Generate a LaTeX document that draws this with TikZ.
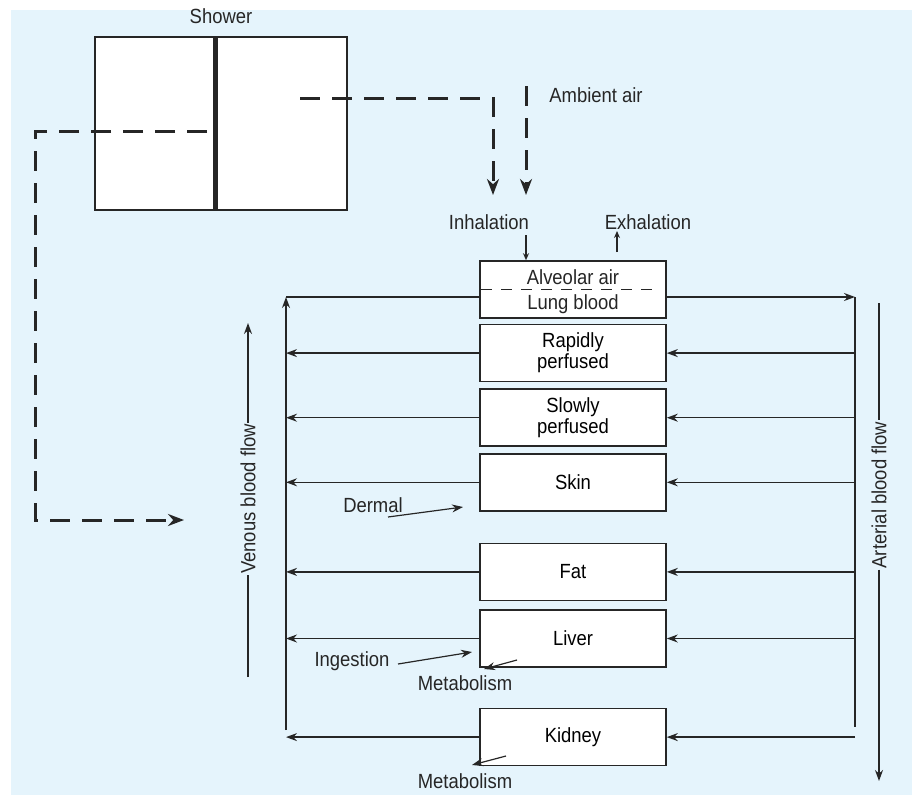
\documentclass[tikz,border=0pt]{standalone}
\usepackage{fontspec}
\setmainfont{Liberation Sans}[FakeStretch=0.9]
\usetikzlibrary{positioning,arrows.meta}
\definecolor{bgblue}{RGB}{229,244,252}
\definecolor{ink}{RGB}{38,38,38}
\tikzset{organ/.style={draw=ink,line width=1.6pt,fill=white,minimum width=186pt,minimum height=57pt,align=center,inner sep=0pt},
         line/.style={-{Stealth[length=11pt,width=8pt]},line width=1.4pt,draw=ink},
         tiny/.style={-{Stealth[length=7pt,width=6pt]},line width=1.2pt,draw=ink},
         route/.style={-{Stealth[length=16pt,width=12pt]},line width=3pt,draw=ink,dash pattern=on 20pt off 12pt},
         lbl/.style={inner sep=1pt,text=ink}
}

\begin{document}
\begin{tikzpicture}[x=1pt,y=-1pt,font=\fontsize{20.5}{21}\selectfont]
  \useasboundingbox (0,0) rectangle (912,795);
  \fill[bgblue] (11,10) rectangle (912,795);

  % shower stall
  \node[draw=ink,line width=1.6pt,fill=white,minimum width=252pt,minimum height=173pt,inner sep=0pt,
        label={[lbl,label distance=11pt]above:Shower}] (shower) at (221,123.5) {};
  \coordinate (wall) at (215,0);
  \draw[line width=5pt,draw=ink] (shower.north -| wall) -- (shower.south -| wall);

  % compartments
  \node[organ] (lung) at (573,289.5) {};
  \node[organ, below=5pt of lung] (rapid) {Rapidly\\perfused};
  \node[organ, below=6pt of rapid] (slow) {Slowly\\perfused};
  \node[organ, below=6pt of slow] (skin) {Skin};
  \node[organ, below=31pt of skin] (fat) {Fat};
  \node[organ, below=8pt of fat] (liver) {Liver};
  \node[organ, below=40pt of liver] (kidney) {Kidney};
  \draw[ink,line width=1.2pt,dash pattern=on 11pt off 9pt] ([xshift=2pt]lung.west) -- ([xshift=-6pt]lung.east);
  \node[lbl] (alv) at (573,277) {Alveolar air};
  \node[lbl] (blood) at (573,304) {Lung blood};

  % venous and arterial trunks
  \coordinate (vtop) at (286,297);
  \coordinate (vbot) at (286,730);
  \coordinate (atop) at (855,297);
  \coordinate (abot) at (855,727);
  \draw[line] (vbot) -- (vtop);
  \draw[ink,line width=1.4pt] (vtop) -- (lung.west |- vtop);
  \draw[line] (lung.east |- atop) -- (atop);
  \draw[ink,line width=1.4pt] (atop) -- (abot);
  \foreach \o in {rapid,slow,skin,fat,liver,kidney}{
    \draw[line] (\o.west) -- (\o.west -| vtop);
    \draw[line] (\o.east -| atop) -- (\o.east);
  }

  \node[lbl,rotate=90] (venous) at (248,499) {Venous blood flow};
  \coordinate (vhi) at (248,323);
  \coordinate (vlo) at (248,677);
  \draw[ink,line width=1.4pt] (vlo) -- (venous.west);
  \draw[line] (venous.east) -- (vhi);
  \node[lbl,rotate=90] (arterial) at (879,495) {Arterial blood flow};
  \coordinate (ahi) at (879,303);
  \coordinate (alo) at (879,781);
  \draw[ink,line width=1.4pt] (ahi) -- (arterial.east);
  \draw[line] (arterial.west) -- (alo);

  % exposure routes
  \coordinate (spray) at (300,98);
  \coordinate (inl) at (493,195);
  \draw[route] (spray) -- (spray -| inl) -- (inl);
  \coordinate (amb) at (526,86);
  \coordinate (amb2) at (526,195);
  \draw[route] (amb) -- (amb2);
  \node[lbl] (ambient) at (596,95) {Ambient air};
  \coordinate (drip) at (207,131);
  \coordinate (corner) at (35,520);
  \coordinate (body) at (184,520);
  \draw[route] (drip) -- (drip -| corner) -- (corner) -- (body);

  \node[lbl] (inhal) at (489,222) {Inhalation};
  \node[lbl] (exhal) at (648,222) {Exhalation};
  \coordinate (inh) at (526,235);
  \draw[tiny] (inh) -- (lung.north -| inh);
  \coordinate (exh) at (617,252);
  \coordinate (exh2) at (617,231);
  \draw[tiny] (exh) -- (exh2);

  \node[lbl] (dermal) at (373,505) {Dermal};
  \coordinate (d1) at (388,517);
  \coordinate (d2) at (463,507);
  \draw[line,line width=1.2pt] (d1) -- (d2);
  \node[lbl] (ingest) at (352,661) {Ingestion};
  \coordinate (g1) at (398,664);
  \coordinate (g2) at (472,652);
  \draw[line,line width=1.2pt] (g1) -- (g2);
  \node[lbl] (metliv) at (465,683) {Metabolism};
  \coordinate (m1) at (517,660);
  \coordinate (m2) at (484,669);
  \draw[line,line width=1.2pt] (m1) -- (m2);
  \node[lbl] (metkid) at (465,781) {Metabolism};
  \coordinate (k1) at (506,756);
  \coordinate (k2) at (472,765);
  \draw[line,line width=1.2pt] (k1) -- (k2);
\end{tikzpicture}
\end{document}
